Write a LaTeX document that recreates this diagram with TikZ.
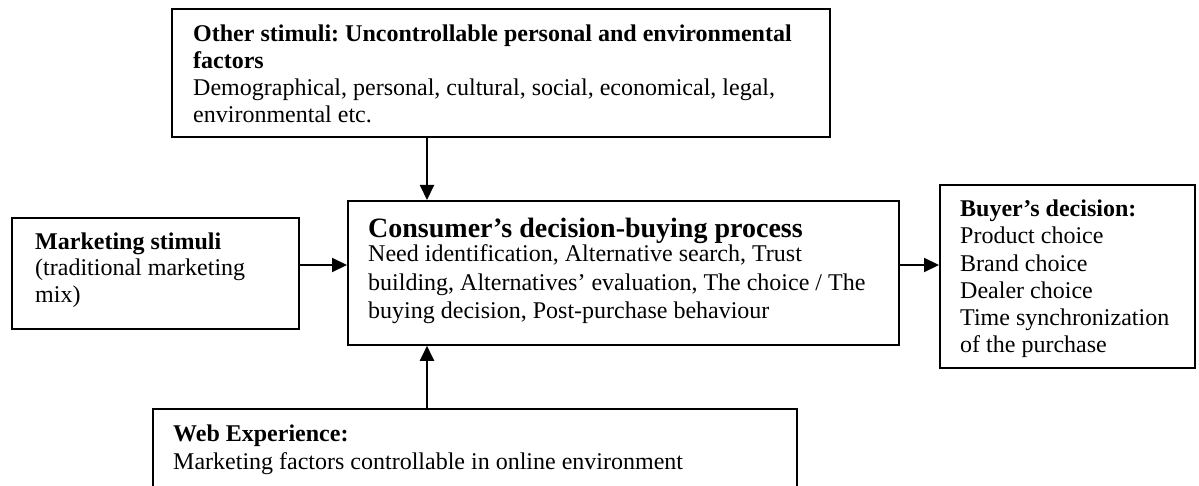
\documentclass[tikz,border=0pt]{standalone}
\usepackage{fontspec}
\setmainfont{Liberation Serif}
\usetikzlibrary{arrows.meta}
\frenchspacing

\tikzset{
  box/.style={draw, line width=1.8pt, anchor=north west, inner sep=0pt, fill=none},
  % multi-line texts are placed by the baseline of their last line
  txt/.style={anchor=base west, align=left, inner sep=0pt,
              font=\fontsize{24}{27.3}\selectfont},
  arr/.style={line width=2pt, -{Triangle[length=15pt,width=14pt]}},
}

\begin{document}
\begin{tikzpicture}[x=1pt, y=-1pt]
  \clip (0,0) rectangle (1199,486);
  \useasboundingbox (0,0) rectangle (1199,486);
  \fill[white] (0,0) rectangle (1199,486);

  % boxes
  \node[box, minimum width=658pt, minimum height=128pt] (other)  at (171,8)   {};
  \node[box, minimum width=551pt, minimum height=144pt] (center) at (347,200) {};
  \node[box, minimum width=287pt, minimum height=111pt] (market) at (11,217)  {};
  \node[box, minimum width=255pt, minimum height=183pt] (buyer)  at (939,184) {};
  % the web-experience box runs past the lower edge
  \node[box, minimum width=644pt, minimum height=120pt] (web)    at (152,408) {};

  % texts
  \node[txt] (otherText) at (193,123) {%
    \textbf{Other stimuli: Uncontrollable personal and environmental}\\
    \textbf{factors}\\
    Demographical, personal, cultural, social, economical, legal,\\
    environmental etc.};

  \node[txt, font=\fontsize{24}{28}\selectfont] (centerText) at (368,318) {%
    {\fontsize{28}{32}\selectfont\bfseries Consumer’s decision-buying process}\\[-3pt]
    Need identification, Alternative search, Trust\\
    building, Alternatives’ evaluation, The choice / The\\
    buying decision, Post-purchase behaviour};

  \node[txt, font=\fontsize{24}{26.5}\selectfont] (marketText) at (35,302) {%
    \textbf{Marketing stimuli}\\
    (traditional marketing\\
    mix)};

  \node[txt, font=\fontsize{24}{27}\selectfont] (buyerText) at (960,352) {%
    \textbf{Buyer’s decision:}\\
    Product choice\\
    Brand choice\\
    Dealer choice\\
    Time synchronization\\
    of the purchase};

  \node[txt, font=\fontsize{24}{28}\selectfont] (webText) at (173,469) {%
    \textbf{Web Experience:}\\
    Marketing factors controllable in online environment};

  % connectors
  \coordinate (ax) at (427,0);
  \coordinate (ay) at (0,265);
  \draw[arr] (other.south -| ax) -- (center.north -| ax);
  \draw[arr] (web.north -| ax) -- (center.south -| ax);
  \draw[arr] (market.east |- ay) -- (center.west |- ay);
  \draw[arr] (center.east |- ay) -- (buyer.west |- ay);
\end{tikzpicture}
\end{document}
